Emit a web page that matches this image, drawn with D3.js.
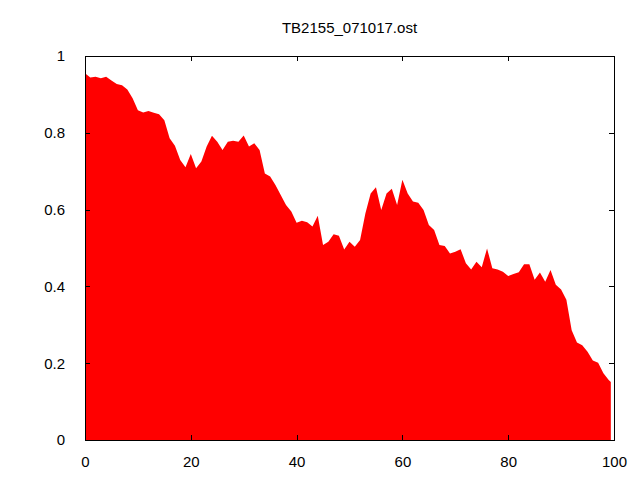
<!DOCTYPE html>
<html>
<head>
<meta charset="utf-8">
<script src="https://cdn.jsdelivr.net/npm/d3@7"></script>
<style>
  html, body { margin: 0; padding: 0; background: #fff; }
  svg { display: block; }
  text { font-family: "Liberation Sans", Arial, sans-serif; font-size: 15px; fill: #000; }
</style>
</head>
<body>
<svg id="chart" width="640" height="480"></svg>
<script>
const title = "TB2155_071017.ost";
const xValues = [0,1,2,3,4,5,6,7,8,9,10,11,12,13,14,15,16,17,18,19,
  20,21,22,23,24,25,26,27,28,29,30,31,32,33,34,35,36,37,38,39,
  40,41,42,43,44,45,46,47,48,49,50,51,52,53,54,55,56,57,58,59,
  60,61,62,63,64,65,66,67,68,69,70,71,72,73,74,75,76,77,78,79,
  80,81,82,83,84,85,86,87,88,89,90,91,92,93,94,95,96,97,98,99,99.4];
const yValues = [0.955,0.944,0.946,0.942,0.946,0.936,0.927,0.924,0.913,0.890,
  0.859,0.853,0.857,0.852,0.848,0.833,0.786,0.766,0.729,0.710,
  0.745,0.708,0.725,0.764,0.792,0.777,0.755,0.777,0.779,0.777,
  0.793,0.764,0.773,0.755,0.694,0.686,0.664,0.638,0.612,0.595,
  0.566,0.571,0.567,0.556,0.584,0.508,0.516,0.536,0.532,0.496,
  0.516,0.503,0.521,0.590,0.642,0.658,0.599,0.642,0.654,0.612,
  0.678,0.642,0.621,0.618,0.599,0.560,0.547,0.508,0.505,0.486,
  0.490,0.497,0.460,0.444,0.464,0.450,0.499,0.447,0.444,0.438,
  0.427,0.432,0.437,0.458,0.458,0.417,0.436,0.412,0.443,0.404,
  0.392,0.365,0.286,0.254,0.247,0.230,0.207,0.201,0.174,0.156,0.151];
const xTicks = [0,20,40,60,80,100];
const yTicks = [0,0.2,0.4,0.6,0.8,1];

const data = xValues.map((x, i) => ({x, y: yValues[i]}));

const mLeft = 85, mRight = 614, mTop = 56, mBottom = 440;
const svg = d3.select("#chart");
const x = d3.scaleLinear().domain([0, 100]).range([mLeft, mRight]);
const y = d3.scaleLinear().domain([0, 1]).range([mBottom, mTop]);

// filled area
svg.append("path")
  .datum(data)
  .attr("fill", "#ff0000")
  .attr("d", d3.area().x(d => x(d.x)).y0(y(0)).y1(d => y(d.y)));

const tickLen = 5;
const fmt = d => d3.format("~g")(d);
const gBottom = svg.append("g").attr("transform", `translate(0,${mBottom})`)
  .call(d3.axisBottom(x).tickValues(xTicks).tickFormat(fmt).tickSizeInner(-tickLen).tickSizeOuter(0).tickPadding(16));
const gLeft = svg.append("g").attr("transform", `translate(${mLeft},0)`)
  .call(d3.axisLeft(y).tickValues(yTicks).tickFormat(fmt).tickSizeInner(-tickLen).tickSizeOuter(0).tickPadding(20));
const gTop = svg.append("g").attr("transform", `translate(0,${mTop})`)
  .call(d3.axisTop(x).tickValues(xTicks).tickFormat("").tickSizeInner(-tickLen).tickSizeOuter(0));
const gRight = svg.append("g").attr("transform", `translate(${mRight},0)`)
  .call(d3.axisRight(y).tickValues(yTicks).tickFormat("").tickSizeInner(-tickLen).tickSizeOuter(0));

[gBottom, gLeft, gTop, gRight].forEach(g => {
  g.select(".domain").remove();
  g.selectAll(".tick line").attr("stroke", "#000").attr("stroke-width", 1).attr("shape-rendering", "crispEdges");
  g.selectAll(".tick text").attr("font-family", "Liberation Sans, Arial, sans-serif").attr("font-size", 15).attr("fill", "#000");
});

// border
svg.append("rect")
  .attr("x", mLeft + 0.5).attr("y", mTop + 0.5)
  .attr("width", mRight - mLeft).attr("height", mBottom - mTop)
  .attr("fill", "none").attr("stroke", "#000").attr("stroke-width", 1);

// title
svg.append("text")
  .attr("x", (mLeft + mRight) / 2).attr("y", 33)
  .attr("text-anchor", "middle")
  .text(title);
</script>
</body>
</html>
